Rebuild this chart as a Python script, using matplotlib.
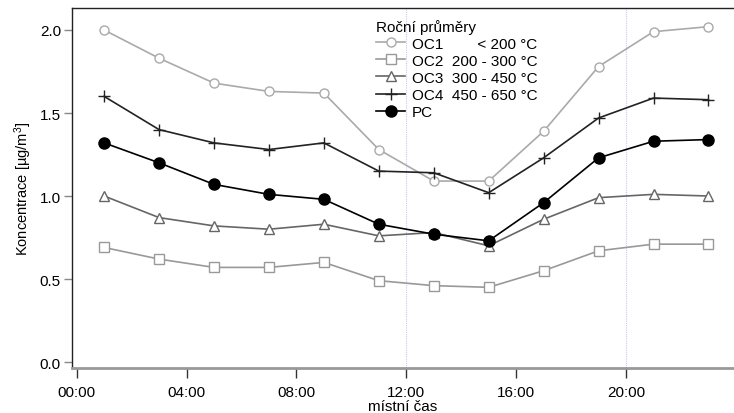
import matplotlib
matplotlib.use("Agg")
import matplotlib.pyplot as plt
from matplotlib.ticker import FixedLocator

plt.rcParams['font.family'] = ['Liberation Sans', 'DejaVu Sans']
plt.rcParams['mathtext.fontset'] = 'custom'
plt.rcParams['mathtext.rm'] = 'Liberation Sans'
plt.rcParams['mathtext.it'] = 'Liberation Sans'

hours = [1, 3, 5, 7, 9, 11, 13, 15, 17, 19, 21, 23]
oc1 = [2.00, 1.83, 1.68, 1.63, 1.62, 1.28, 1.09, 1.09, 1.39, 1.78, 1.99, 2.02]
oc2 = [0.69, 0.62, 0.57, 0.57, 0.60, 0.49, 0.46, 0.45, 0.55, 0.67, 0.71, 0.71]
oc3 = [1.00, 0.87, 0.82, 0.80, 0.83, 0.76, 0.78, 0.70, 0.86, 0.99, 1.01, 1.00]
oc4 = [1.60, 1.40, 1.32, 1.28, 1.32, 1.15, 1.14, 1.02, 1.23, 1.47, 1.59, 1.58]
pc = [1.32, 1.20, 1.07, 1.01, 0.98, 0.83, 0.77, 0.73, 0.96, 1.23, 1.33, 1.34]

labels = ["OC1        < 200 °C", "OC2  200 - 300 °C", "OC3  300 - 450 °C",
          "OC4  450 - 650 °C", "PC"]
xtick_pos = [0, 4, 8, 12, 16, 20]
xtick_labels = ["00:00", "04:00", "08:00", "12:00", "16:00", "20:00"]
ytick_pos = [0.0, 0.5, 1.0, 1.5, 2.0]
vlines = [12, 20]

fig = plt.figure(figsize=(7.34, 4.14), dpi=100)
ax = fig.add_axes([72/734, 45/414, 1 - 72/734, (369-9)/414])

for v in vlines:
    ax.axvline(v, color='#c8c8f4', lw=0.8, ls=(0, (1, 1)), zorder=0)

ax.plot(hours, oc1, color='#aaaaaa', lw=1.2, marker='o', ms=6.5, mfc='white', mec='#aaaaaa', mew=1.0, label=labels[0])
ax.plot(hours, oc2, color='#999999', lw=1.2, marker='s', ms=6.5, mfc='white', mec='#999999', mew=1.0, label=labels[1])
ax.plot(hours, oc3, color='#666666', lw=1.2, marker='^', ms=7.5, mfc='white', mec='#666666', mew=1.0, label=labels[2])
ax.plot(hours, oc4, color='#222222', lw=1.2, marker='+', ms=9, mec='#222222', mew=1.0, label=labels[3])
ax.plot(hours, pc, color='black', lw=1.2, marker='o', ms=8, mfc='black', mec='black', label=labels[4])

ax.set_xlim(-0.17, 23.93)
ax.set_ylim(-0.036, 2.1325)
ax.xaxis.set_major_locator(FixedLocator(xtick_pos))
ax.set_xticklabels(xtick_labels)
ax.yaxis.set_major_locator(FixedLocator(ytick_pos))
ax.set_yticklabels([f"{v:.1f}" for v in ytick_pos])

ax.spines['right'].set_visible(False)
ax.spines['top'].set_color('#222222')
ax.spines['top'].set_linewidth(1.0)
ax.spines['left'].set_color('#222222')
ax.spines['left'].set_linewidth(1.0)
ax.spines['bottom'].set_color('#999999')
ax.spines['bottom'].set_linewidth(2.0)

ax.tick_params(axis='y', direction='out', length=6, width=1.0, color='#888888', labelsize=11, pad=2)
ax.tick_params(axis='x', direction='out', length=7, width=1.0, color='#333333', labelsize=11, pad=5)

ax.set_ylabel("Koncentrace [µg/m$^3$]", fontsize=10.5, labelpad=4)
ax.set_xlabel("místní čas", fontsize=11, labelpad=0)

leg = ax.legend(loc='upper left', bbox_to_anchor=(365/734, 1 - 9/414), bbox_transform=fig.transFigure,
                frameon=False, title="Roční průměry", fontsize=11, title_fontsize=11,
                handlelength=1.95, handletextpad=0.4, labelspacing=0.2, borderpad=0.2,
                alignment='left')

fig.savefig("out.png", dpi=100)
